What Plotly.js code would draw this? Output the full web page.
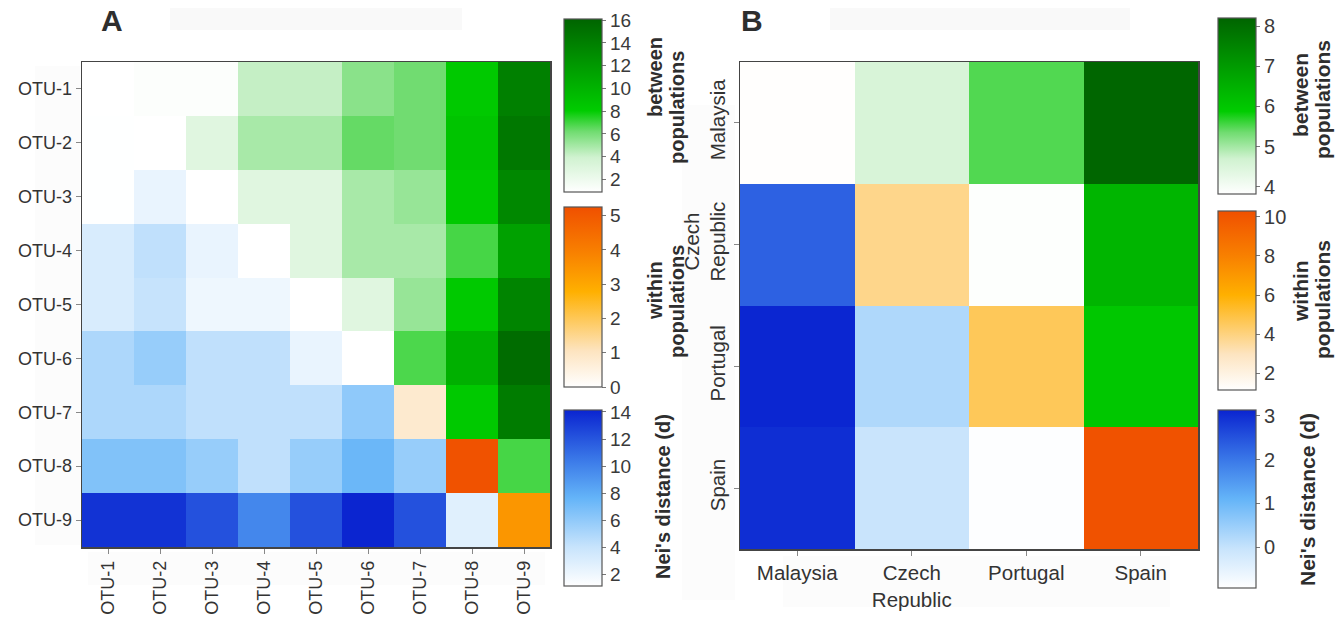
<!DOCTYPE html>
<html>
<head>
<meta charset="utf-8">
<script src="https://cdn.plot.ly/plotly-3.0.1.min.js"></script>
<style>html,body{margin:0;padding:0;background:#fff;}#chart{width:1335px;height:625px;}</style>
</head>
<body>
<div id="chart"></div>
<script>
// ---------- data ----------
const otuLabels = ['OTU-1','OTU-2','OTU-3','OTU-4','OTU-5','OTU-6','OTU-7','OTU-8','OTU-9'];
// upper triangle: between populations, diagonal: within populations, lower triangle: Nei's distance (d)
const otuMatrix = [
  [0,    1.1,  1.1,  4.2,  4.2,  5.6,  6.2,  8.3,  14.0],
  [1.2,  0,    2.9,  4.9,  4.9,  6.4,  6.2,  8.7,  14.6],
  [1.2,  2.3,  0,    2.9,  2.9,  4.9,  5.3,  8.3,  13.4],
  [3.2,  4.3,  2.3,  0,    2.9,  4.9,  4.9,  6.9,  11.5],
  [3.2,  4.1,  2.05, 2.05, 0,    2.9,  5.3,  8.3,  13.7],
  [5.0,  5.8,  4.3,  4.3,  2.3,  0,    6.8,  10.3, 15.5],
  [5.0,  5.0,  4.3,  4.3,  4.3,  6.1,  0.8,  8.3,  14.3],
  [6.6,  6.6,  5.8,  4.3,  5.8,  7.4,  5.8,  5.2,  6.9],
  [13.5, 13.5, 12.2, 9.8,  12.2, 14.1, 12.2, 2.8,  3.4]
];
const countryLabels = ['Malaysia','Czech<br>Republic','Portugal','Spain'];
const countryMatrix = [
  [1.2,  4.55, 5.5,  8.15],
  [2.3,  3.8,  3.85, 6.4],
  [3.1,  0.25, 4.6,  6.0],
  [3.0, -0.05, -0.9, 10.2]
];
const otuRanges = {between:[0.9,16.1], within:[0,5.25], nei:[1.17,14.14]};
const countryRanges = {between:[3.82,8.2], within:[1.14,10.3], nei:[-0.93,3.13]};

// ---------- styles ----------
const greenScale = [[0,'#ffffff'],[0.2,'#d0f2d0'],[0.35,'#70dc70'],[0.47,'#00cc00'],[0.7,'#00a000'],[1,'#006400']];
const orangeScale = [[0,'#ffffff'],[0.2,'#fde4c0'],[0.53,'#ffb000'],[0.75,'#f88000'],[1,'#f05000']];
const blueScale = [[0,'#ffffff'],[0.22,'#c8e4fc'],[0.5,'#64b4f8'],[0.72,'#3a78e8'],[1,'#0a24d0']];
const FONT = '"Liberation Sans", Arial, sans-serif';
const W = 1335, H = 625;
const px = v => v / W, py = v => 1 - v / H;

function part(m, which) {
  return m.map((row, i) => row.map((v, j) => {
    if (which === 'between') return j > i ? v : null;
    if (which === 'within') return j === i ? v : null;
    return j < i ? v : null;
  }));
}

function cbar(xPix, topPix, lenPix, dtick, fs) {
  return {
    x: px(xPix), xanchor: 'left', xref: 'paper', xpad: 0,
    y: py(topPix), yanchor: 'top', yref: 'paper', ypad: 0,
    len: lenPix, lenmode: 'pixels', thickness: 38, thicknessmode: 'pixels',
    outlinewidth: 1.2, outlinecolor: '#555',
    ticks: 'outside', ticklen: 4, tickcolor: '#777', dtick: dtick,
    tickfont: {family: FONT, size: fs, color: '#3a3a3a'}
  };
}

function traces(labels, m, ranges, xa, ya, cbX, bars, fs) {
  const specs = [
    ['between', greenScale, bars[0]],
    ['within', orangeScale, bars[1]],
    ['nei', blueScale, bars[2]]
  ];
  return specs.map(([key, scale, b]) => ({
    type: 'heatmap', x: labels, y: labels, z: part(m, key),
    xaxis: xa, yaxis: ya, colorscale: scale,
    zmin: ranges[key][0], zmax: ranges[key][1],
    colorbar: cbar(cbX, b[0], b[1], b[2], fs), hoverongaps: false
  }));
}

const data = [].concat(
  traces(otuLabels, otuMatrix, otuRanges, 'x', 'y', 564,
         [[19,173,2],[207,180,1],[410,176,2]], 19),
  traces(countryLabels, countryMatrix, countryRanges, 'x2', 'y2', 1218,
         [[18,176,1],[211,179,2],[410,178,1]], 20)
);

const axisBase = {
  showline: true, mirror: true, linecolor: '#444', linewidth: 1.5,
  ticks: 'outside', ticklen: 5, tickcolor: '#888', showgrid: false, zeroline: false,
  tickfont: {family: FONT, size: 18, color: '#333'}, fixedrange: true
};
const axisB = Object.assign({}, axisBase, {tickfont: {family: FONT, size: 20.5, color: '#333'}});

function ann(text, x, y, size, bold, angle) {
  return {text: bold ? '<b>' + text + '</b>' : text, x: px(x), y: py(y), xref: 'paper', yref: 'paper',
    showarrow: false, textangle: angle || 0, xanchor: 'center', yanchor: 'middle',
    font: {family: FONT, size: size, color: '#2e2e2e'}};
}

const faint = (x0, y0, x1, y1, c) => ({type: 'rect', xref: 'paper', yref: 'paper', layer: 'below',
  x0: px(x0), x1: px(x1), y0: py(y1), y1: py(y0), fillcolor: c || '#f9f9f9', line: {width: 0}});

const layout = {
  width: W, height: H, margin: {l: 0, r: 0, t: 0, b: 0},
  paper_bgcolor: '#ffffff', plot_bgcolor: '#ffffff', showlegend: false,
  font: {family: FONT, color: '#333'},
  xaxis: Object.assign({}, axisBase, {domain: [px(82), px(550)], anchor: 'y', tickangle: -90, type: 'category'}),
  yaxis: Object.assign({}, axisBase, {domain: [py(547), py(62)], anchor: 'x', autorange: 'reversed', type: 'category'}),
  xaxis2: Object.assign({}, axisB, {domain: [px(740), px(1198)], anchor: 'y2', tickangle: 0, type: 'category'}),
  yaxis2: Object.assign({}, axisB, {domain: [py(549), py(62)], anchor: 'x2', autorange: 'reversed', tickangle: -90, type: 'category'}),
  shapes: [
    faint(170, 8, 462, 30), faint(830, 8, 1130, 30),
    faint(35, 66, 80, 545, '#fcfcfc'), faint(88, 552, 545, 585, '#fcfcfc'),
    faint(783, 556, 1170, 607, '#fcfcfc'), faint(682, 105, 735, 600, '#fcfcfc')
  ],
  annotations: [
    ann('A', 112, 21, 30, true), ann('B', 752, 21, 30, true),
    ann('between', 655, 77, 20, true, -90), ann('populations', 677, 108, 20, true, -90),
    ann('within', 655, 291, 20, true, -90), ann('populations', 677, 302, 20, true, -90),
    ann("Nei's distance (d)", 663, 497, 20, true, -90),
    ann('between', 1300, 95, 21, true, -90), ann('populations', 1322, 100, 21, true, -90),
    ann('within', 1300, 291, 21, true, -90), ann('populations', 1322, 300, 21, true, -90),
    ann("Nei's distance (d)", 1307, 500, 21, true, -90)
  ]
};

Plotly.newPlot('chart', data, layout, {staticPlot: true, displayModeBar: false});
</script>
</body>
</html>
